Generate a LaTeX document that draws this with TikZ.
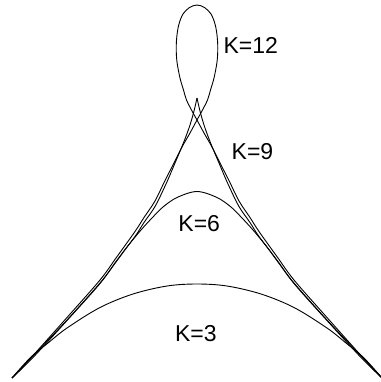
\documentclass[tikz,border=0pt]{standalone}
\usepackage{fontspec}
\setmainfont{Liberation Sans}
\begin{document}
\begin{tikzpicture}[x=1bp,y=-1bp,
  curve/.style={line width=0.9bp,black,line join=round},
  lbl/.style={inner sep=0pt,anchor=center,font=\fontsize{23bp}{23bp}\selectfont}]
\useasboundingbox (0,0) rectangle (381,382);
\fill[white] (0,0) rectangle (381,382);
% K=3
\draw[curve] plot[smooth,tension=0.55] coordinates {(12,378) (30,358) (48,343) (67,328) (100,307.5) (133,294) (167,286) (197,284) (227,286) (261,294) (294,307.5) (327,328) (346,343) (364,358) (382,378)};
% K=6
\draw[curve] plot[smooth,tension=0.55] coordinates {(12,378) (33,356) (67,320) (100,283) (116,262) (127,247) (141,230) (152,218) (163,207) (177,197.5) (197,191.5) (217,197.5) (231,207) (242,218) (253,230) (267,247) (278,262) (294,283) (327,320) (361,356) (382,378)};
% K=9
\draw[curve] plot[smooth,tension=0.55] coordinates {(12,378) (33,357.5) (67,320.5) (100,283.5) (116,261.5) (135,236.5) (144,222.5) (155,206.5) (166,184) (175,163) (183,144) (189,128) (193.5,113) (197,98)};
\draw[curve] plot[smooth,tension=0.55] coordinates {(197,98) (200.5,113) (205,128) (211,144) (219,163) (228,184) (239,206.5) (250,222.5) (259,236.5) (278,261.5) (294,283.5) (327,320.5) (361,357.5) (382,378)};
% K=12
\draw[curve] plot[smooth,tension=0.55] coordinates {(12,378) (33,355.5) (67,317.5) (100,280) (116,258) (135,231.5) (144,217.5) (155,201) (165,180.5) (174,163) (182,147) (190,133) (197,120) (202.5,110) (207.5,100) (210.5,90) (214,78) (217,62) (217.8,48) (217,35) (215,24) (211,14) (204.5,7.5) (197,5) (189.5,7.5) (183,14) (179,24) (177,35) (176.2,48) (177,62) (180,78) (183.5,90) (186.5,100) (191.5,110) (197,120) (204,133) (212,147) (220,163) (229,180.5) (239,201) (250,217.5) (259,231.5) (278,258) (294,280) (327,317.5) (361,355.5) (382,378)};
\node[lbl] (k12) at (250.8,45.3) {K=12};
\node[lbl] (k9) at (252.5,151.7) {K=9};
\node[lbl] (k6) at (199.2,223.3) {K=6};
\node[lbl] (k3) at (195.8,334) {K=3};
\end{tikzpicture}
\end{document}
